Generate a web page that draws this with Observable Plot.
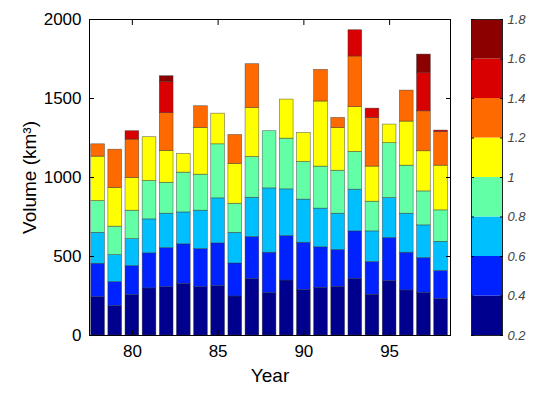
<!DOCTYPE html>
<html><head><meta charset="utf-8">
<script src="https://cdn.jsdelivr.net/npm/d3@7"></script>
<script src="https://cdn.jsdelivr.net/npm/@observablehq/plot@0.6"></script>
<style>
body{margin:0;background:#fff}
#wrap{position:relative;width:547px;height:395px;background:#fff}
#wrap svg{position:absolute;left:0;top:0;background:transparent}
</style></head><body><div id="wrap"></div>
<script>
const years = [78,79,80,81,82,83,84,85,86,87,88,89,90,91,92,93,94,95,96,97,98];
const binEdges = [0.2,0.4,0.6,0.8,1.0,1.2,1.4,1.6,1.8];
const binTickLabels = ["0.2","0.4","0.6","0.8","1","1.2","1.4","1.6","1.8"];
const binColors = ["#00008f","#0022ff","#00bfff","#62ffa6","#ffff00","#ff6a00","#d80000","#8c0000"];
// volume (km^3) in each thickness class, per year
const vol_02_04 = [243,186,256,298,306,327,306,313,247,357,268,348,287,302,308,359,258,344,285,270,230];
const vol_04_06 = [211,152,183,222,247,250,241,270,209,266,256,281,300,256,233,300,207,273,239,220,178];
const vol_06_08 = [196,171,171,215,218,202,243,285,194,249,407,296,273,245,230,264,194,253,247,207,185];
const vol_08_10 = [201,180,180,243,196,252,228,342,184,258,362,321,238,266,272,239,188,347,304,215,199];
const vol_10_12 = [281,245,207,277,201,118,296,194,252,310,0,247,184,412,269,283,222,118,279,254,283];
const vol_12_14 = [78,242,243,0,239,0,137,0,183,277,0,0,0,200,65,321,308,0,196,253,213];
const vol_14_16 = [0,0,53,0,198,0,0,0,0,0,0,0,0,0,0,166,59,0,0,245,9];
const vol_16_18 = [0,0,0,0,36,0,0,0,0,0,0,0,0,0,0,0,0,0,0,114,0];
const yTicks = [0,500,1000,1500,2000];
const xTicks = [80,85,90,95];

const series = [vol_02_04,vol_04_06,vol_06_08,vol_08_10,vol_10_12,vol_12_14,vol_14_16,vol_16_18];
const rows = [];
years.forEach((yr, i) => {
  let base = 0;
  series.forEach((s, k) => {
    const v = s[i];
    if (v > 0) rows.push({year: yr, cls: k, y1: base, y2: base + v});
    base += v;
  });
});
const bins = binColors.map((c, k) => ({lo: binEdges[k], hi: binEdges[k+1], cls: k}));

const font = "'Liberation Sans', Arial, sans-serif";
const main = Plot.plot({
  width: 547, height: 395,
  marginLeft: 89, marginRight: 97, marginTop: 19, marginBottom: 60,
  style: {fontFamily: font, fontSize: "17px", color: "#000", background: "transparent"},
  x: {domain: [77.5, 98.55]},
  y: {domain: [0, 2000]},
  color: {domain: d3.range(8), range: binColors},
  marks: [
    Plot.rect(rows, {x1: d => d.year - 0.4, x2: d => d.year + 0.4, y1: "y1", y2: "y2", fill: "cls", stroke: "#333", strokeWidth: 0.6, strokeOpacity: 0.7}),
    Plot.frame({stroke: "#000", strokeWidth: 1}),
    Plot.axisY({anchor: "left", ticks: yTicks, tickSize: -5, tickPadding: 13, tickFormat: d => String(d), label: null}),
    Plot.axisY({anchor: "left", ticks: [], label: "Volume (km³)", labelAnchor: "center", labelArrow: "none", labelOffset: 67, fontSize: 19}),
    Plot.axisY({anchor: "right", ticks: yTicks, tickSize: -5, tickFormat: () => "", label: null}),
    Plot.axisX({anchor: "bottom", ticks: xTicks, tickSize: -5, tickPadding: 14, tickFormat: d => String(d), label: null}),
    Plot.axisX({anchor: "bottom", ticks: [], label: "Year", labelAnchor: "center", labelArrow: "none", labelOffset: 46, fontSize: 19}),
    Plot.axisX({anchor: "top", ticks: xTicks, tickSize: -5, tickFormat: () => "", label: null})
  ]
});

const cbar = Plot.plot({
  width: 547, height: 395,
  marginLeft: 471, marginRight: 45, marginTop: 19, marginBottom: 60,
  style: {fontFamily: font, fontSize: "13px", background: "transparent"},
  y: {domain: [0.2, 1.8]},
  color: {domain: d3.range(8), range: binColors},
  marks: [
    Plot.rect(bins, {y1: "lo", y2: "hi", fill: "cls"}),
    Plot.frame({stroke: "#222", strokeWidth: 1}),
    Plot.axisY({anchor: "right", ticks: binEdges, tickSize: -3, tickPadding: 8, tickFormat: (d, i) => binTickLabels[i], label: null, fill: "#444", fontStyle: "italic"}),
    Plot.axisY({anchor: "left", ticks: binEdges, tickSize: -3, tickFormat: () => "", label: null})
  ]
});
const wrap = document.getElementById("wrap");
wrap.appendChild(main);
wrap.appendChild(cbar);
</script></body></html>
